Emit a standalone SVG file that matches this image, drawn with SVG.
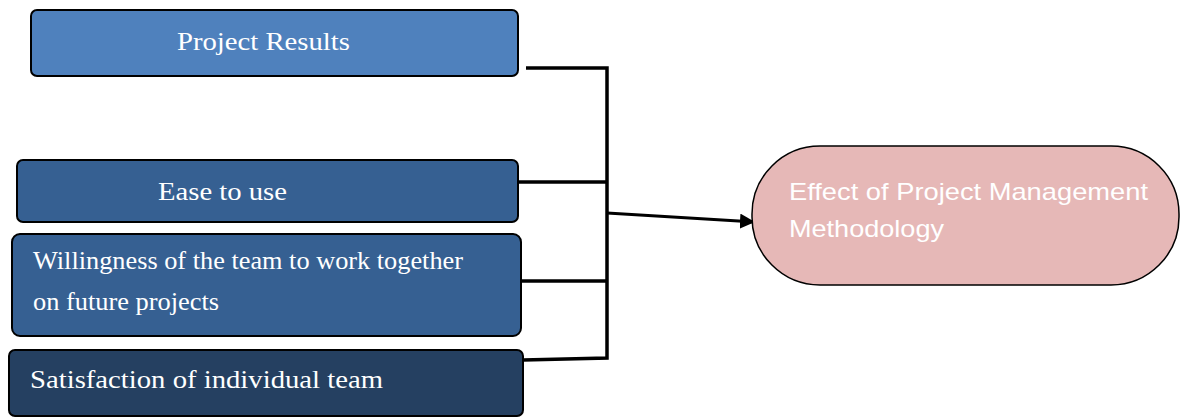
<svg xmlns="http://www.w3.org/2000/svg" width="1180" height="417" viewBox="0 0 1180 417">
<defs>
<style>
.box{stroke:#000;stroke-width:2}
.t{font-family:"Liberation Serif","Times New Roman",serif;font-size:26px;fill:#fff}
.ts{font-family:"Liberation Sans",Arial,sans-serif;font-size:24px;fill:#fff}
.c{fill:none;stroke:#000;stroke-width:3.5}
</style>
<marker id="ah" viewBox="0 0 10 10" refX="10" refY="5" markerWidth="5" markerHeight="5" orient="auto" markerUnits="strokeWidth">
<path d="M0,0 L10,5 L0,10 z" fill="#000"/>
</marker>
</defs>
<rect width="1180" height="417" fill="#fff"/>
<g id="connectors">
<polyline class="c" points="526,68 607,68 607,358 523,360"/>
<line class="c" x1="518" y1="182" x2="607" y2="182"/>
<line class="c" x1="521" y1="281" x2="607" y2="281"/>
<line x1="607" y1="213" x2="755" y2="222" stroke="#000" stroke-width="3" marker-end="url(#ah)"/>
</g>
<g id="n1">
<rect class="box" x="31" y="10" width="487" height="66" rx="6" fill="#4f81bd"/>
<text class="t" x="177" y="50" textLength="173" lengthAdjust="spacingAndGlyphs">Project Results</text>
</g>
<g id="n2">
<rect class="box" x="17" y="160" width="501" height="62" rx="6" fill="#366092"/>
<text class="t" x="158" y="200" textLength="129" lengthAdjust="spacingAndGlyphs">Ease to use</text>
</g>
<g id="n3">
<rect class="box" x="12" y="234" width="509" height="102" rx="8" fill="#366092"/>
<text class="t" x="33" y="269" textLength="430" lengthAdjust="spacingAndGlyphs">Willingness of the team to work together</text>
<text class="t" x="33" y="310" textLength="186" lengthAdjust="spacingAndGlyphs">on future projects</text>
</g>
<g id="n4">
<rect class="box" x="9" y="350" width="514" height="66" rx="6" fill="#254061"/>
<text class="t" x="30" y="388" textLength="353" lengthAdjust="spacingAndGlyphs">Satisfaction of individual team</text>
</g>
<g id="n5">
<rect x="752" y="146" width="427" height="139" rx="68" fill="#e6b8b7" stroke="#000" stroke-width="1.5"/>
<text class="ts" x="789" y="200" textLength="359" lengthAdjust="spacingAndGlyphs">Effect of Project Management</text>
<text class="ts" x="789" y="237" textLength="155" lengthAdjust="spacingAndGlyphs">Methodology</text>
</g>
</svg>
